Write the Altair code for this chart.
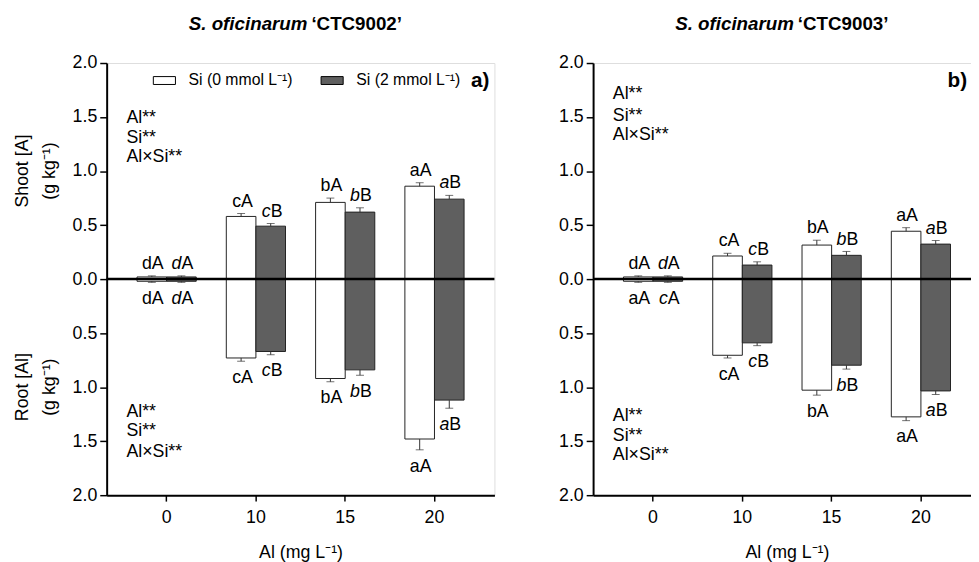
import altair as alt
import pandas as pd

FONT = "Liberation Sans"

al_levels = ["0", "10", "15", "20"]
si_labels = ["Si (0 mmol L⁻¹)", "Si (2 mmol L⁻¹)"]
y_ticks = [-2.0, -1.75, -1.5, -1.25, -1.0, -0.75, -0.5, -0.25, 0.0,
           0.25, 0.5, 0.75, 1.0, 1.25, 1.5, 1.75, 2.0]

# ---- S. oficinarum 'CTC9002' (panel a) ----
a_shoot_si0 = [0.02, 0.58, 0.71, 0.86]
a_shoot_si0_err = [0.01, 0.027, 0.040, 0.032]
a_shoot_si2 = [0.02, 0.49, 0.62, 0.74]
a_shoot_si2_err = [0.01, 0.025, 0.040, 0.035]
a_root_si0 = [0.02, 0.73, 0.92, 1.48]
a_root_si0_err = [0.01, 0.03, 0.03, 0.10]
a_root_si2 = [0.02, 0.67, 0.84, 1.12]
a_root_si2_err = [0.01, 0.03, 0.05, 0.075]
a_shoot_si0_lt = ["dA", "cA", "bA", "aA"]
a_shoot_si2_lt = ["dA", "cB", "bB", "aB"]
a_root_si0_lt = ["dA", "cA", "bA", "aA"]
a_root_si2_lt = ["dA", "cB", "bB", "aB"]

# ---- S. oficinarum 'CTC9003' (panel b) ----
b_shoot_si0 = [0.02, 0.214, 0.315, 0.443]
b_shoot_si0_err = [0.01, 0.025, 0.045, 0.033]
b_shoot_si2 = [0.02, 0.13, 0.22, 0.324]
b_shoot_si2_err = [0.01, 0.03, 0.036, 0.033]
b_root_si0 = [0.02, 0.705, 1.028, 1.275]
b_root_si0_err = [0.01, 0.025, 0.046, 0.035]
b_root_si2 = [0.02, 0.59, 0.797, 1.035]
b_root_si2_err = [0.01, 0.026, 0.036, 0.033]
b_shoot_si0_lt = ["dA", "cA", "bA", "aA"]
b_shoot_si2_lt = ["dA", "cB", "bB", "aB"]
b_root_si0_lt = ["aA", "cA", "bA", "aA"]
b_root_si2_lt = ["cA", "cB", "bB", "aB"]

stats_text = ["Al**", "Si**", "Al×Si**"]
a_stats_y_top = [1.49, 1.31, 1.13]
a_stats_y_bot = [-1.23, -1.41, -1.60]
b_stats_y_top = [1.71, 1.51, 1.33]
b_stats_y_bot = [-1.27, -1.45, -1.63]


def build(shoot0, shoot0e, shoot2, shoot2e, root0, root0e, root2, root2e,
          sl0, sl2, rl0, rl2):
    rows = []
    series = [
        ("shoot", 0, shoot0, shoot0e, sl0, 1),
        ("shoot", 1, shoot2, shoot2e, sl2, 1),
        ("root", 0, root0, root0e, rl0, -1),
        ("root", 1, root2, root2e, rl2, -1),
    ]
    for organ, si, vals, errs, lts, sign in series:
        for i, al in enumerate(al_levels):
            rows.append({
                "organ": organ,
                "si": si_labels[si],
                "italic": si == 1,
                "al": al,
                "value": sign * vals[i],
                "end": sign * (vals[i] + errs[i]),
                "low": lts[i][0],
                "up": lts[i][1],
            })
    return pd.DataFrame(rows)


df_a = build(a_shoot_si0, a_shoot_si0_err, a_shoot_si2, a_shoot_si2_err,
             a_root_si0, a_root_si0_err, a_root_si2, a_root_si2_err,
             a_shoot_si0_lt, a_shoot_si2_lt, a_root_si0_lt, a_root_si2_lt)
df_b = build(b_shoot_si0, b_shoot_si0_err, b_shoot_si2, b_shoot_si2_err,
             b_root_si0, b_root_si0_err, b_root_si2, b_root_si2_err,
             b_shoot_si0_lt, b_shoot_si2_lt, b_root_si0_lt, b_root_si2_lt)

major = "abs(datum.value*2 - round(datum.value*2)) < 0.001"

H = 438
FS = 18


def panel(df, cultivar, tag, W, tag_inset, stats_top, stats_bot, first):
    x = alt.X("al:N", sort=al_levels,
              scale=alt.Scale(paddingInner=0.337, paddingOuter=0.34),
              axis=alt.Axis(labelAngle=0, tickSize=6, tickWidth=1.5, tickColor="black",
                            domainColor="black", domainWidth=2, labelFontSize=FS,
                            labelColor="black", labelPadding=8, titleFontSize=FS,
                            titleFontWeight="normal", titleColor="black",
                            titlePadding=17, grid=False),
              title="Al (mg L⁻¹)")
    xo = alt.XOffset("si:N", sort=si_labels)
    y = alt.Y("value:Q", scale=alt.Scale(domain=[-2, 2], nice=False, zero=False),
              axis=alt.Axis(values=y_ticks, labelExpr=f"{major} ? format(abs(datum.value), '.1f') : ''",
                            tickSize={"condition": {"test": major, "value": 7}, "value": 4},
                            tickWidth=1.5, tickColor="black", domainColor="black",
                            domainWidth=2, labelFontSize=FS, labelColor="black",
                            labelPadding=3, labelFlush=False, labelOverlap=False,
                            grid=False),
              title=None)
    if first:
        leg = alt.Legend(orient="none", legendX=50, legendY=9, direction="horizontal",
                         title=None, symbolType="M-1.4,-0.5H1.4V0.5H-1.4Z",
                         symbolSize=256, symbolStrokeColor="black", symbolStrokeWidth=1,
                         labelFontSize=16, labelColor="black", labelOffset=16,
                         columnPadding=26, symbolOpacity=1)
    else:
        leg = None
    fill = alt.Fill("si:N", scale=alt.Scale(domain=si_labels, range=["white", "#5f5f5f"]),
                    legend=leg)

    base = alt.Chart(df)
    bars = base.mark_bar(stroke="#222222", strokeWidth=1, opacity=1).encode(
        x=x, xOffset=xo, y=y, fill=fill)
    err = base.mark_rule(color="#333333", strokeWidth=1).encode(
        x=x, xOffset=xo, y="value:Q", y2="end:Q")
    caps = base.mark_tick(color="#333333", size=8, thickness=1).encode(
        x=x, xOffset=xo, y="end:Q")

    layers = [bars, err, caps]
    for organ, dy in (("shoot", -12), ("root", 17)):
        for ital in (False, True):
            layers.append(
                base.transform_filter(
                    f"datum.organ == '{organ}' && datum.italic == {str(ital).lower()}"
                ).mark_text(align="right", baseline="middle", dy=dy, fontSize=FS,
                            fontStyle="italic" if ital else "normal", color="black"
                ).encode(x=x, xOffset=xo, y="end:Q", text="low:N"))
        layers.append(
            base.transform_filter(f"datum.organ == '{organ}'").mark_text(
                align="left", baseline="middle", dy=dy, fontSize=FS, color="black"
            ).encode(x=x, xOffset=xo, y="end:Q", text="up:N"))

    one = pd.DataFrame({"z": [0.0]})
    zero = alt.Chart(one).mark_rule(color="black", strokeWidth=2.5).encode(y="z:Q")
    layers.append(zero)

    sdf = pd.DataFrame({"t": stats_text * 2, "yy": stats_top + stats_bot})
    layers.append(alt.Chart(sdf).mark_text(align="left", baseline="middle", fontSize=FS,
                                           color="black").encode(
        x=alt.value(20), y="yy:Q", text="t:N"))

    layers.append(alt.Chart(one).mark_text(align="right", baseline="middle", fontSize=21,
                                           fontWeight="bold", color="black").encode(
        x=alt.value(W - tag_inset), y=alt.value(18), text=alt.value(tag)))

    layers.append(alt.Chart(one).mark_text(align="right", baseline="middle", fontSize=19,
                                           fontWeight="bold", fontStyle="italic",
                                           color="black").encode(
        x=alt.value(W / 2 + 7), y=alt.value(-39), text=alt.value("S. oficinarum")))
    layers.append(alt.Chart(one).mark_text(align="left", baseline="middle", fontSize=19,
                                           fontWeight="bold", color="black", dx=4).encode(
        x=alt.value(W / 2 + 7), y=alt.value(-39), text=alt.value(f"‘{cultivar}’")))

    if first:
        tdf = pd.DataFrame({"t1": ["Shoot [A]", "Root [Al]"],
                            "t2": ["(g kg⁻¹)", "(g kg⁻¹)"],
                            "yy": [1.0, -1.0]})
        layers.append(alt.Chart(tdf).mark_text(angle=270, align="center", baseline="middle",
                                               fontSize=FS, color="black").encode(
            x=alt.value(-85), y="yy:Q", text="t1:N"))
        layers.append(alt.Chart(tdf).mark_text(angle=270, align="center", baseline="middle",
                                               fontSize=FS, color="black").encode(
            x=alt.value(-57), y="yy:Q", text="t2:N"))

    return alt.layer(*layers).properties(width=W, height=H)


left = panel(df_a, "CTC9002", "a)", 393, 5, a_stats_y_top, a_stats_y_bot, True)
right = panel(df_b, "CTC9003", "b)", 393, 14, b_stats_y_top, b_stats_y_bot, False)

chart = alt.hconcat(left, right, spacing=62).resolve_scale(
    x="independent", y="independent", xOffset="independent"
).resolve_legend(fill="independent").configure_view(
    stroke="black", strokeWidth=1.5
).configure(
    font=FONT, padding={"left": 5, "top": 3, "right": -12, "bottom": 0}
)

chart.save("out.html", embed_options={"renderer": "svg", "actions": False})
